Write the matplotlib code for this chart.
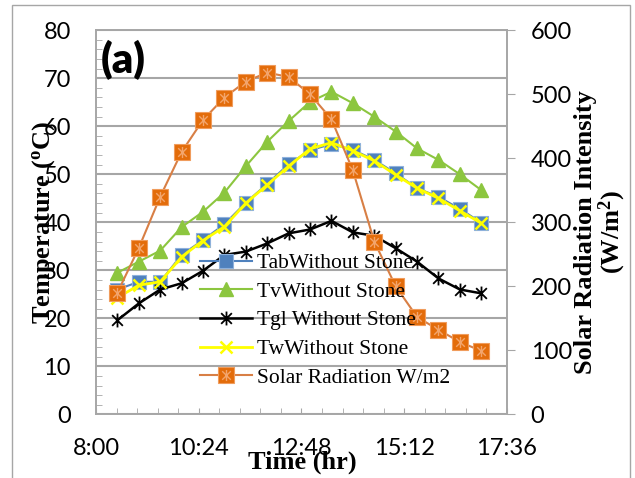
import matplotlib.pyplot as plt
from matplotlib.path import Path
from matplotlib.patches import Rectangle
from matplotlib.legend_handler import HandlerTuple
from matplotlib.ticker import MultipleLocator, FuncFormatter

# ============================================================
# DATA
# ============================================================

# time of day in hours, 8:30 ... 17:00
hours = [8.5, 9.0, 9.5, 10.0, 10.5, 11.0, 11.5, 12.0, 12.5,
         13.0, 13.5, 14.0, 14.5, 15.0, 15.5, 16.0, 16.5, 17.0]

tab = [26.0, 27.6, 27.6, 33.2, 36.3, 39.6, 44.1, 48.0, 52.1,
       55.0, 56.3, 55.1, 53.0, 50.2, 47.1, 45.3, 42.8, 39.9]
tv = [29.5, 31.8, 34.1, 39.0, 42.2, 46.2, 51.7, 56.8, 61.1,
      65.1, 67.2, 64.8, 62.0, 58.9, 55.4, 53.0, 50.0, 46.7]
tgl = [19.6, 23.1, 26.0, 27.3, 29.9, 33.2, 33.9, 35.6, 37.7,
       38.5, 40.3, 37.9, 37.2, 34.6, 31.8, 28.3, 26.0, 25.2]
tw = [24.3, 26.9, 27.6, 32.8, 36.2, 39.1, 44.0, 47.8, 51.7,
      55.3, 56.6, 54.9, 52.8, 49.9, 47.1, 45.0, 42.4, 39.8]
solar = [190, 260, 340, 410, 460, 495, 520, 534, 527,
         500, 461, 381, 270, 200, 152, 132, 113, 99]

labels = ["TabWithout Stone", "TvWithout Stone", "Tgl Without Stone",
          "TwWithout Stone", "Solar Radiation W/m2"]

# ============================================================
# STYLE
# ============================================================

plt.rcParams["mathtext.fontset"] = "custom"
plt.rcParams["mathtext.rm"] = "Liberation Serif"
plt.rcParams["mathtext.bf"] = "Liberation Serif:bold"

TICK_FONT = "Lato"
SERIF = "Liberation Serif"
GRID = "#a6a6a6"

# excel style asterisk marker (x plus vertical bar)
star = Path([(-1, -1), (1, 1), (-1, 1), (1, -1), (0, -1.3), (0, 1.3)],
            [Path.MOVETO, Path.LINETO, Path.MOVETO, Path.LINETO,
             Path.MOVETO, Path.LINETO])

fig = plt.figure(figsize=(6.35, 4.78), dpi=100)
ax = fig.add_axes([96 / 635, 63.7 / 478, 411 / 635, 384 / 478])
ax2 = ax.twinx()

# ============================================================
# SERIES
# ============================================================

l1, = ax.plot(hours, tab, color="#4f81bd", lw=1.5, marker="s", ms=9.5,
              mfc="#4f81bd", mec="#8eb1dc", mew=0.8)
l2, = ax.plot(hours, tv, color="#8cc63f", lw=1.5, marker="^", ms=9.5,
              mfc="#8cc63f", mec="#8cc63f")
l3, = ax.plot(hours, tgl, color="black", lw=1.8, marker=star, ms=10,
              mec="black", mew=1.3)
l4, = ax.plot(hours, tw, color="#ffff00", lw=2.0, marker="x", ms=9,
              mec="#ffff00", mew=1.8)

l5, = ax2.plot(hours, solar, color="#d87f45", lw=1.5, marker="s", ms=11.5,
               mfc="#e36c0a", mec="#f09c5c", mew=0.8)
l5b, = ax2.plot(hours, solar, ls="none", marker=star, ms=8,
                mec="#f3a56c", mew=1.0)

# ============================================================
# AXES
# ============================================================

ax.set_xlim(8.0, 17.6)
ax.set_ylim(0, 80)
ax2.set_ylim(0, 600)

ax.xaxis.set_major_locator(MultipleLocator(2.4, offset=0.8))
ax.xaxis.set_minor_locator(MultipleLocator(0.48, offset=0.32))
ax.xaxis.set_major_formatter(
    FuncFormatter(lambda v, p: f"{int(v + 1e-6)}:{int(round((v % 1) * 60)) % 60:02d}"))
ax.yaxis.set_major_locator(MultipleLocator(10))
ax.yaxis.set_minor_locator(MultipleLocator(2))
ax2.yaxis.set_major_locator(MultipleLocator(100))
ax2.yaxis.set_minor_locator(MultipleLocator(100))

ax.grid(axis="y", color=GRID, lw=1.5)
ax.set_axisbelow(True)

for a in (ax, ax2):
    for s in a.spines.values():
        s.set_color(GRID)
        s.set_linewidth(1.2)

ax.tick_params(axis="y", which="both", direction="in", color=GRID,
               labelsize=17, pad=18)
ax.tick_params(axis="y", which="major", length=0)
ax.tick_params(axis="y", which="minor", length=4)
ax.tick_params(axis="x", which="both", direction="in", color=GRID,
               length=4, labelsize=17, pad=17)
ax2.tick_params(axis="y", which="major", direction="out", color=GRID,
                length=6, labelsize=17, pad=11)
ax2.tick_params(axis="y", which="minor", direction="in", color=GRID,
                length=4)
for t in ax.get_xticklabels() + ax.get_yticklabels() + ax2.get_yticklabels():
    t.set_fontfamily(TICK_FONT)

# ============================================================
# TEXTS
# ============================================================

fig.text(44 / 635, 1 - 222 / 478, r"Temperature ($\mathbf{^{o}}$C)",
         rotation=90, ha="center", va="center", family=SERIF,
         fontweight="bold", fontsize=19)
fig.text(601 / 635, 1 - 232 / 478,
         "Solar Radiation Intensity\n" + r"(W/m$\mathbf{^{2}}$)",
         rotation=90, ha="center", va="center", ma="center", family=SERIF,
         fontweight="bold", fontsize=19, linespacing=1.0)
fig.text(302 / 635, 1 - 462 / 478, "Time (hr)", ha="center", va="center",
         family=SERIF, fontweight="bold", fontsize=19)
fig.text(101 / 635, 1 - 60 / 478, "(a)", ha="left", va="center",
         family=TICK_FONT, fontweight="heavy", fontsize=30)

leg = ax2.legend([l1, l2, l3, l4, (l5, l5b)], labels,
                 handler_map={tuple: HandlerTuple(ndivide=1)},
                 loc="upper left", bbox_to_anchor=(200 / 635, 1 - 253 / 478),
                 bbox_transform=fig.transFigure, frameon=False,
                 borderpad=0, borderaxespad=0, handlelength=2.4,
                 handletextpad=0.25, labelspacing=0.4,
                 prop={"family": SERIF, "size": 15.5})

# chart area border
fig.patches.append(Rectangle((12 / 635, -0.02), 618 / 635, (473 / 478) + 0.02,
                             transform=fig.transFigure, fill=False,
                             edgecolor="#a6a6a6", lw=1.0))

plt.savefig("out.png", dpi=100)
